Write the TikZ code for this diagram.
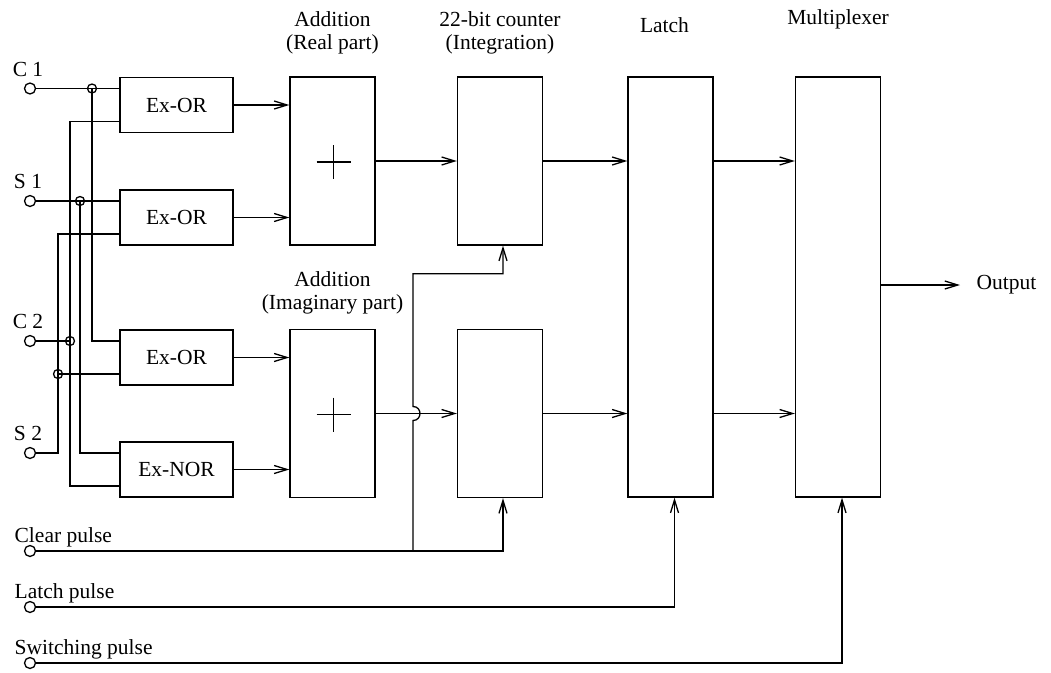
\documentclass[tikz,border=0pt]{standalone}
\usepackage{fontspec}
\setmainfont{Liberation Serif}
\usetikzlibrary{arrows.meta, positioning, calc}

\tikzset{
  gate/.style={draw, minimum width=113pt, minimum height=55pt, inner sep=0pt},
  block/.style={draw, minimum width=85pt, minimum height=168pt, inner sep=0pt},
  tallblock/.style={draw, minimum width=85pt, minimum height=420pt, inner sep=0pt},
  term/.style={circle, draw, fill=white, minimum size=11pt, inner sep=0pt},
  junc/.style={circle, draw, minimum size=9pt, inner sep=0pt},
  lbl/.style={align=center, inner sep=0pt},
}

\begin{document}
\begin{tikzpicture}[x=1pt, y=-1pt, >={Straight Barb[length=13pt, width=8pt]},
    line width=1.3pt, font=\fontsize{21.5}{23}\selectfont]
    \useasboundingbox (0,0) rectangle (1051,672);

    % Gates
    \node[gate] (xor1) at (176.5,105) {Ex-OR};
    \node[gate] (xor2) at (176.5,217.5) {Ex-OR};
    \node[gate] (xor3) at (176.5,357.5) {Ex-OR};
    \node[gate] (xnor) at (176.5,469.5) {Ex-NOR};
    \foreach \g in {xor1,xor2,xor3,xnor} {
        \coordinate (\g-a) at ($(\g.west)+(0,-16.5)$);
        \coordinate (\g-b) at ($(\g.west)+(0,16.5)$);
    }

    % Adders, counters, latch, multiplexer
    \node[block] (addre) at (332.5,161) {};
    \node[block] (addim) at (332.5,413.5) {};
    \node[block] (cnt1) at (500,161) {};
    \node[block] (cnt2) at (500,413.5) {};
    \node[tallblock] (latch) at (670.5,287) {};
    \node[tallblock] (mux) at (838,287) {};
    \foreach \b in {addre,addim} {
        \draw ($(\b.center)+(-16,1)$) -- ++(34,0);
        \draw ($(\b.center)+(1,-16)$) -- ++(0,34);
    }

    % Titles
    \node[lbl, above=22pt of addre] {Addition\\(Real part)};
    \node[lbl, above=14pt of addim] {Addition\\(Imaginary part)};
    \node[lbl, above=22pt of cnt1] {22-bit counter\\(Integration)};
    \node[lbl, above=43pt of latch, xshift=-6pt] {Latch};
    \node[lbl, above=47pt of mux] {Multiplexer};

    % Input terminals
    \node[term] (tc1) at (30,0 |- xor1-a) {};
    \node[term] (ts1) at (30,0 |- xor2-a) {};
    \node[term] (tc2) at (30,0 |- xor3-a) {};
    \node[term] (ts2) at (30,0 |- xnor-a) {};
    \node[lbl, above=5pt of tc1, xshift=-2pt] {C 1};
    \node[lbl, above=5pt of ts1, xshift=-2pt] {S 1};
    \node[lbl, above=5pt of tc2, xshift=-2pt] {C 2};
    \node[lbl, above=5pt of ts2, xshift=-2pt] {S 2};

    % Junctions
    \node[junc] (jc1) at (92,0 |- xor1-a) {};
    \node[junc] (js1) at (80,0 |- xor2-a) {};
    \node[junc] (jc2) at (70,0 |- xor3-a) {};
    \node[junc] (js2) at (58,0 |- xor3-b) {};

    % Input wiring
    \draw (tc1) -- (xor1-a);
    \draw (jc1.center) |- (xor3-a);
    \draw (ts1) -- (xor2-a);
    \draw (js1.center) |- (xnor-a);
    \draw (tc2) -- (jc2.center);
    \draw (xor1-b) -| (jc2.center) |- (xnor-b);
    \draw (ts2) -| (js2.center);
    \draw (xor2-b) -| (js2.center) -- (xor3-b);

    % Data path
    \draw[->] (xor1) -- (xor1 -| addre.west);
    \draw[->] (xor2) -- (xor2 -| addre.west);
    \draw[->] (xor3) -- (xor3 -| addim.west);
    \draw[->] (xnor) -- (xnor -| addim.west);
    \draw[->] (addre) -- (cnt1);
    \draw[->] (addim) -- (cnt2);
    \draw[->] (cnt1) -- (cnt1 -| latch.west);
    \draw[->] (cnt2) -- (cnt2 -| latch.west);
    \draw[->] (latch.east |- cnt1) -- (mux.west |- cnt1);
    \draw[->] (latch.east |- cnt2) -- (mux.west |- cnt2);

    % Output
    \coordinate (outtip) at (960,285);
    \node[lbl, right=16pt of outtip] (out) {Output};
    \draw[->] (mux.east |- outtip) -- (outtip);

    % Control pulses
    \node[term] (tclr) at (30,551) {};
    \node[term] (tlat) at (30,607) {};
    \node[term] (tsw) at (30,663) {};
    \node[lbl, anchor=base west] at (14,542) {Clear pulse};
    \node[lbl, anchor=base west] at (14,598) {Latch pulse};
    \node[lbl, anchor=base west] at (14,654) {Switching pulse};

    \coordinate (jclr) at (413,0 |- tclr);
    \draw[->] (tclr) -| ($(cnt2.south)+(3,0)$);
    \draw[->] (jclr) -- ($(413,0 |- cnt2)+(0,7)$)
        .. controls +(9.3pt,0) and +(9.3pt,0) .. ($(413,0 |- cnt2)+(0,-7)$)
        |- ($(cnt1.south)+(3,28)$) -- ($(cnt1.south)+(3,0)$);
    \draw[->] (tlat) -| ($(latch.south)+(4,0)$);
    \draw[->] (tsw) -| ($(mux.south)+(4,0)$);
\end{tikzpicture}
\end{document}
